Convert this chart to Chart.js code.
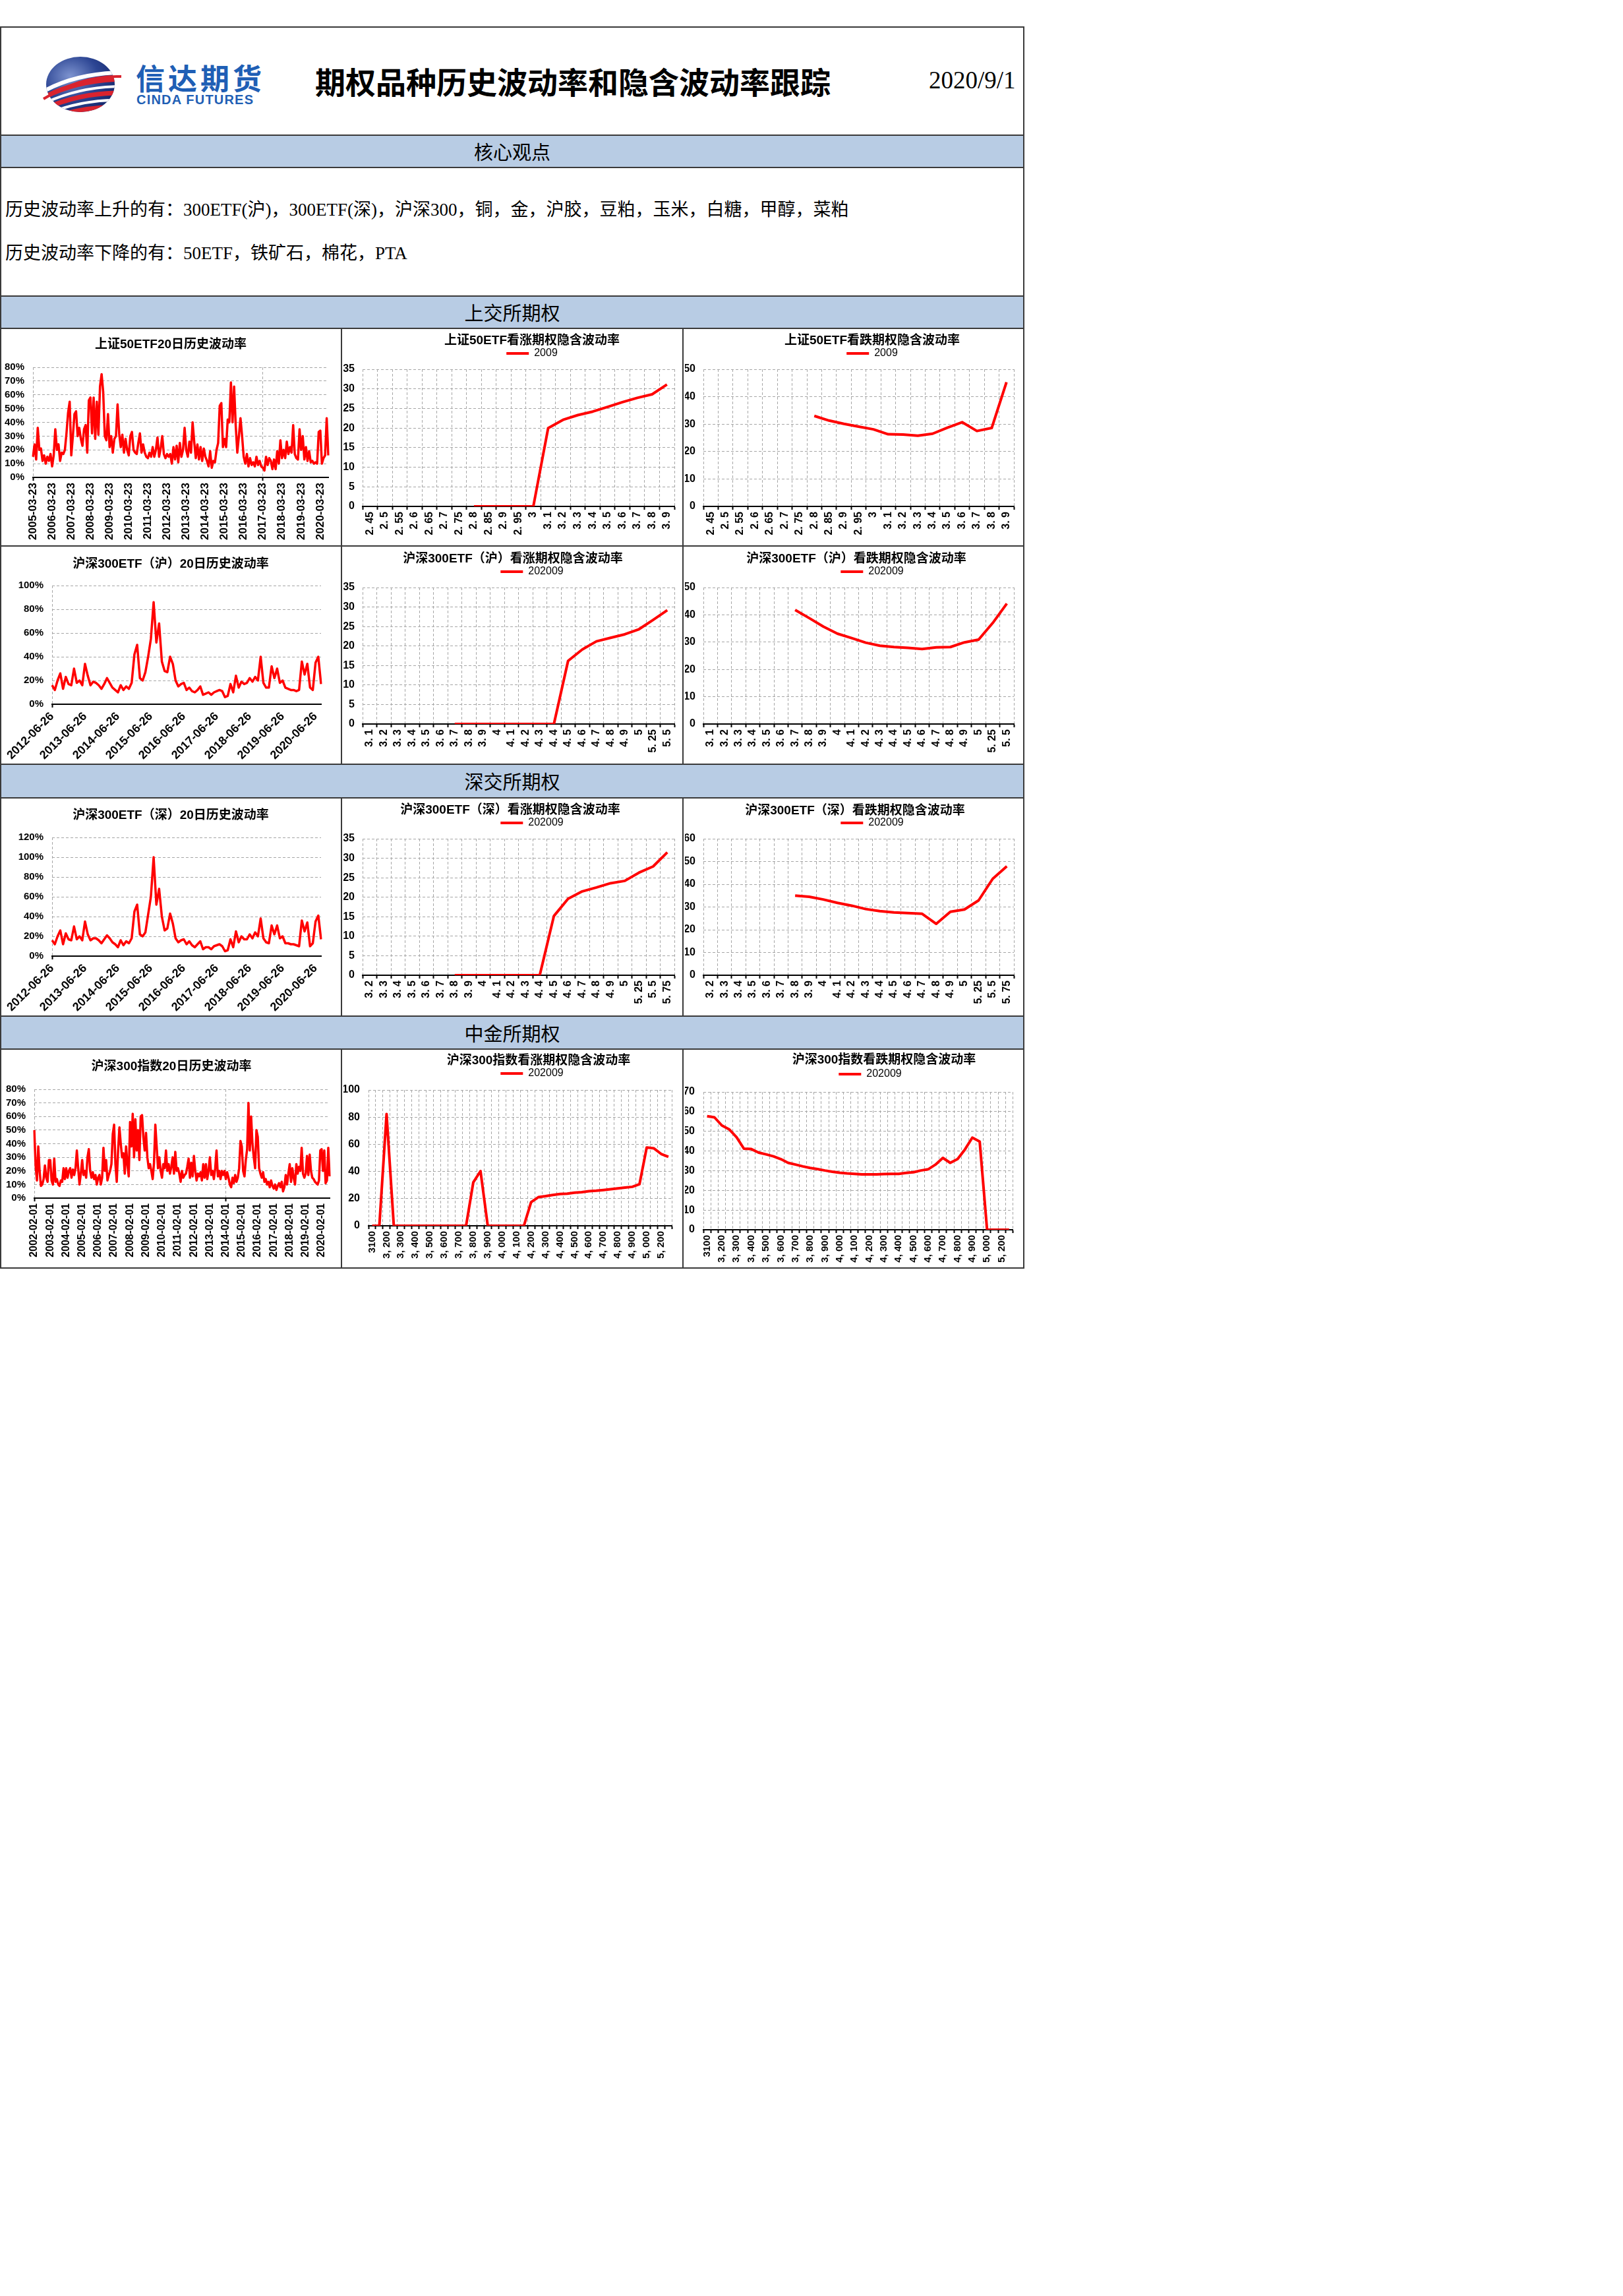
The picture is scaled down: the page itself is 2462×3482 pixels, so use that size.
<!DOCTYPE html>
<html lang="zh-CN">
<head>
<meta charset="UTF-8">
<title>期权品种历史波动率和隐含波动率跟踪</title>
<script src="https://cdn.jsdelivr.net/npm/chart.js"></script>
<style>
    html, body { margin: 0; padding: 0; background: #fff; }
    body { position: relative; width: 2462px; height: 3482px; font-family: 'Liberation Sans', 'Noto Sans CJK SC', sans-serif; }

    /* every box of the report table */
    .blk { position: absolute; box-sizing: border-box; border: 2px solid #3a3a3a; background: #fff; }
    .bar { background: #b8cce4; text-align: center; font-family: 'Noto Sans CJK SC', sans-serif; font-size: 29px; color: #000; }
    .cv { position: absolute; left: 0; top: 0; right: 0; bottom: 0; }

    .abs { position: absolute; white-space: nowrap; }
    .brand { color: #1f5fb5; font-family: 'Noto Sans CJK SC', sans-serif; font-weight: bold; }
    .note { left: 8px; font-family: 'Liberation Serif', 'Noto Sans CJK SC', serif; font-size: 27px; line-height: 36px; color: #000; }
</style>
</head>
<body>

<!-- table frame -->
<div class="blk" style="left:0;top:40px;width:1554px;height:166px"></div>
<div class="blk bar" style="left:0;top:204px;width:1554px;height:51px;line-height:47px">核心观点</div>
<div class="blk" style="left:0;top:253px;width:1554px;height:197px"></div>
<div class="blk bar" style="left:0;top:448px;width:1554px;height:51px;line-height:47px">上交所期权</div>

<div class="blk" style="left:0;top:497px;width:519px;height:332px"><div class="cv" id="c1"></div></div>
<div class="blk" style="left:517px;top:497px;width:520px;height:332px"><div class="cv" id="c2"></div></div>
<div class="blk" style="left:1035px;top:497px;width:519px;height:332px"><div class="cv" id="c3"></div></div>

<div class="blk" style="left:0;top:827px;width:519px;height:333px"><div class="cv" id="c4"></div></div>
<div class="blk" style="left:517px;top:827px;width:520px;height:333px"><div class="cv" id="c5"></div></div>
<div class="blk" style="left:1035px;top:827px;width:519px;height:333px"><div class="cv" id="c6"></div></div>

<div class="blk bar" style="left:0;top:1158px;width:1554px;height:53px;line-height:49px">深交所期权</div>

<div class="blk" style="left:0;top:1209px;width:519px;height:333px"><div class="cv" id="c7"></div></div>
<div class="blk" style="left:517px;top:1209px;width:520px;height:333px"><div class="cv" id="c8"></div></div>
<div class="blk" style="left:1035px;top:1209px;width:519px;height:333px"><div class="cv" id="c9"></div></div>

<div class="blk bar" style="left:0;top:1540px;width:1554px;height:52px;line-height:48px">中金所期权</div>

<div class="blk" style="left:0;top:1590px;width:519px;height:334px"><div class="cv" id="c10"></div></div>
<div class="blk" style="left:517px;top:1590px;width:520px;height:334px"><div class="cv" id="c11"></div></div>
<div class="blk" style="left:1035px;top:1590px;width:519px;height:334px"><div class="cv" id="c12"></div></div>

<!-- header -->
<svg class="abs" style="left:64px;top:80px" width="122" height="96" viewBox="0 0 122 96">
    <defs>
        <radialGradient id="globe" cx="35%" cy="35%" r="75%">
            <stop offset="0" stop-color="#7d93cf"/>
            <stop offset="0.55" stop-color="#2c4593"/>
            <stop offset="1" stop-color="#13266a"/>
        </radialGradient>
        <clipPath id="ball"><ellipse cx="58" cy="48" rx="52" ry="42"/></clipPath>
    </defs>
    <ellipse cx="58" cy="48" rx="52" ry="42" fill="url(#globe)"/>
    <g clip-path="url(#ball)" fill="none">
        <path d="M-4 62 Q 50 30 126 30" stroke="#fff" stroke-width="6"/>
        <path d="M-4 71 Q 52 40 126 40" stroke="#d9232e" stroke-width="7"/>
        <path d="M-4 80 Q 55 50 126 51" stroke="#fff" stroke-width="4"/>
        <path d="M-4 88 Q 58 59 126 61" stroke="#d9232e" stroke-width="7"/>
        <path d="M-4 97 Q 60 69 126 72" stroke="#fff" stroke-width="4"/>
        <path d="M-4 105 Q 62 79 126 83" stroke="#d9232e" stroke-width="7"/>
    </g>
    <path d="M2 70 Q 60 34 120 36" stroke="#d9232e" stroke-width="4" fill="none"/>
</svg>
<div class="abs brand" style="left:206px;top:92px;font-size:44px;line-height:50px;letter-spacing:5px">信达期货</div>
<div class="abs brand" style="left:207px;top:140px;font-family:'Liberation Sans',sans-serif;font-size:20px;line-height:22px;letter-spacing:1.2px">CINDA FUTURES</div>
<div class="abs" style="left:478px;top:93px;font-family:'Noto Sans CJK SC',sans-serif;font-weight:bold;font-size:46px;line-height:58px;color:#000">期权品种历史波动率和隐含波动率跟踪</div>
<div class="abs" style="left:1409px;top:100px;font-family:'Liberation Serif',serif;font-size:37px;line-height:44px;color:#000">2020/9/1</div>

<!-- core view -->
<div class="abs note" style="top:300px">历史波动率上升的有：300ETF(沪)，300ETF(深)，沪深300，铜，金，沪胶，豆粕，玉米，白糖，甲醇，菜粕</div>
<div class="abs note" style="top:366px">历史波动率下降的有：50ETF，铁矿石，棉花，PTA</div>

<script>
// ---------------- data ----------------

// 20-day historical volatility (%), one reading per month
const hv50Start = [2005, 3, 23];
const hv50 = [
    15, 24, 13, 36, 20, 21, 12, 16, 10, 15, 12, 17,
    8, 16, 35, 20, 24, 12, 18, 17, 20, 32, 47, 55,
    16, 30, 46, 48, 30, 36, 28, 23, 35, 38, 18, 56,
    58, 32, 58, 28, 55, 31, 66, 75, 62, 30, 27, 46,
    22, 30, 18, 28, 30, 53, 32, 22, 31, 18, 28, 20,
    16, 30, 33, 20, 18, 17, 25, 32, 18, 24, 18, 15,
    14, 18, 15, 22, 15, 20, 29, 15, 21, 30, 17, 14,
    17, 15, 17, 10, 22, 13, 23, 11, 25, 15, 20, 36,
    20, 15, 26, 18, 40, 26, 14, 24, 13, 22, 12, 21,
    15, 12, 8, 19, 7, 12, 11, 20, 25, 52, 54, 22,
    28, 22, 42, 40, 69, 40, 66, 38, 18, 30, 43, 30,
    15, 10, 17, 8, 14, 9, 11, 8, 15, 9, 12, 8,
    7, 5, 15, 9, 14, 12, 6, 13, 6, 19, 10, 27,
    14, 20, 14, 26, 17, 22, 18, 38, 17, 14, 13, 35,
    20, 30, 13, 22, 12, 19, 11, 12, 10, 11, 10, 33,
    34, 10, 14, 16, 43, 16
];
const hv50Ticks = ['2005-03-23', '2006-03-23', '2007-03-23', '2008-03-23', '2009-03-23', '2010-03-23',
    '2011-03-23', '2012-03-23', '2013-03-23', '2014-03-23', '2015-03-23', '2016-03-23',
    '2017-03-23', '2018-03-23', '2019-03-23', '2020-03-23'];

const hvEtfStart = [2012, 6, 26];
const hvSh300 = [
    16, 12, 20, 26, 13, 23, 17, 16, 30, 18, 20, 16,
    34, 24, 16, 19, 18, 16, 13, 17, 22, 18, 14, 12,
    10, 16, 12, 15, 13, 18, 42, 50, 22, 20, 27, 40,
    55, 86, 52, 68, 36, 28, 27, 40, 34, 20, 15, 17,
    18, 12, 14, 11, 10, 12, 15, 8, 9, 10, 8, 10,
    11, 12, 11, 6, 7, 17, 10, 24, 14, 19, 17, 18,
    22, 19, 23, 20, 40, 18, 14, 14, 32, 22, 30, 18,
    20, 14, 13, 12, 12, 11, 12, 36, 25, 34, 14, 12,
    35, 40, 17
];
const hvSz300 = [
    16, 12, 20, 26, 12, 23, 17, 16, 30, 17, 20, 16,
    35, 22, 16, 18, 18, 16, 13, 17, 21, 18, 14, 12,
    9, 16, 11, 15, 13, 18, 45, 52, 22, 20, 24, 42,
    60, 100, 52, 68, 40, 26, 28, 43, 33, 18, 14, 16,
    17, 12, 15, 11, 9, 12, 15, 7, 9, 9, 7, 10,
    11, 12, 10, 5, 6, 17, 9, 25, 14, 20, 17, 17,
    22, 18, 24, 20, 38, 18, 14, 13, 31, 22, 31, 18,
    20, 13, 13, 12, 12, 11, 10, 36, 25, 34, 10, 13,
    35, 41, 17
];
const hvEtfTicks = ['2012-06-26', '2013-06-26', '2014-06-26', '2015-06-26', '2016-06-26',
    '2017-06-26', '2018-06-26', '2019-06-26', '2020-06-26'];

const hvIdxStart = [2002, 2, 1];
const hvIdx300 = [
    50, 24, 13, 38, 20, 9, 10, 14, 24, 15, 12, 28,
    28, 13, 10, 29, 12, 14, 10, 9, 13, 12, 22, 14,
    22, 15, 20, 22, 15, 21, 17, 22, 35, 22, 10, 18,
    28, 17, 20, 15, 30, 36, 20, 15, 19, 14, 17, 10,
    15, 17, 10, 15, 37, 20, 28, 13, 17, 20, 25, 47,
    54, 25, 12, 35, 52, 40, 30, 33, 18, 38, 25, 16,
    56, 38, 62, 30, 58, 35, 50, 28, 60, 61, 45, 35,
    48, 30, 22, 25, 20, 14, 26, 54, 38, 22, 30, 20,
    15, 25, 22, 35, 20, 25, 18, 23, 30, 18, 34, 20,
    22, 18, 12, 20, 15, 17, 18, 23, 29, 15, 26, 16,
    31, 20, 13, 18, 16, 19, 13, 25, 15, 25, 14, 20,
    30, 17, 20, 14, 22, 35, 16, 20, 14, 20, 17, 20,
    14, 19, 15, 10, 8, 15, 11, 17, 12, 15, 22, 42,
    38, 20, 16, 28, 36, 70, 35, 60, 40, 30, 22, 50,
    45, 22, 18, 15, 19, 12, 14, 10, 12, 8, 13, 9,
    7, 10, 6, 9, 11, 8, 12, 5, 8, 17, 10, 18,
    25, 12, 22, 15, 10, 25, 18, 23, 20, 37, 18, 15,
    18, 31, 17, 32, 20, 15, 14, 12, 11, 10, 13, 35,
    36, 20, 35, 11, 13, 37, 16
];
const hvIdxTicks = ['2002-02-01', '2003-02-01', '2004-02-01', '2005-02-01', '2006-02-01', '2007-02-01',
    '2008-02-01', '2009-02-01', '2010-02-01', '2011-02-01', '2012-02-01', '2013-02-01', '2014-02-01',
    '2015-02-01', '2016-02-01', '2017-02-01', '2018-02-01', '2019-02-01', '2020-02-01'];

// implied volatility by strike
const strikes50 = [2.45, 2.5, 2.55, 2.6, 2.65, 2.7, 2.75, 2.8, 2.85, 2.9, 2.95, 3, 3.1, 3.2, 3.3, 3.4, 3.5, 3.6, 3.7, 3.8, 3.9];
const call50 = [null, null, null, null, null, null, null, 0, 0, 0, 0, 0, 20.0, 22.1, 23.3, 24.2, 25.4, 26.6, 27.7, 28.6, 31.1];
const put50 = [null, null, null, null, null, null, null, 33.0, 31.3, 30.1, 29.1, 28.1, 26.3, 26.2, 25.8, 26.5, 28.7, 30.7, 27.5, 28.6, 45.3];

const strikesSh300 = [3.1, 3.2, 3.3, 3.4, 3.5, 3.6, 3.7, 3.8, 3.9, 4, 4.1, 4.2, 4.3, 4.4, 4.5, 4.6, 4.7, 4.8, 4.9, 5, 5.25, 5.5];
const callSh300 = [null, null, null, null, null, null, 0, 0, 0, 0, 0, 0, 0, 0, 16.2, 19.1, 21.2, 22.1, 23.0, 24.3, 26.7, 29.2];
const putSh300 = [null, null, null, null, null, null, 41.8, 38.8, 35.7, 33.1, 31.5, 29.8, 28.7, 28.2, 27.9, 27.5, 28.1, 28.2, 29.9, 30.9, 37.0, 44.1];

const strikesSz300 = [3.2, 3.3, 3.4, 3.5, 3.6, 3.7, 3.8, 3.9, 4, 4.1, 4.2, 4.3, 4.4, 4.5, 4.6, 4.7, 4.8, 4.9, 5, 5.25, 5.5, 5.75];
const callSz300 = [null, null, null, null, null, null, 0, 0, 0, 0, 0, 0, 0, 15.2, 19.6, 21.5, 22.5, 23.6, 24.2, 26.3, 27.9, 31.5];
const putSz300 = [null, null, null, null, null, null, 35.0, 34.5, 33.3, 31.8, 30.6, 29.1, 28.2, 27.6, 27.3, 27.0, 22.6, 27.9, 28.9, 32.9, 42.4, 47.9];

const strikesIdx300 = [3100, 3150, 3200, 3250, 3300, 3350, 3400, 3450, 3500, 3550, 3600, 3650, 3700, 3750,
    3800, 3850, 3900, 3950, 4000, 4050, 4100, 4150, 4200, 4250, 4300, 4350, 4400, 4450, 4500, 4550,
    4600, 4650, 4700, 4750, 4800, 4850, 4900, 4950, 5000, 5100, 5200, 5300];
const callIdx300 = [0, 0, 82.3, 0, 0, 0, 0, 0, 0, 0, 0, 0, 0, 0, 32.0, 40.3, 0, 0, 0, 0, 0, 0,
    17.4, 21.1, 21.8, 22.7, 23.4, 23.7, 24.4, 24.8, 25.5, 25.8, 26.3, 26.9, 27.6, 28.1, 28.7, 30.6,
    57.7, 57.0, 52.9, 50.8];
const putIdx300 = [57.7, 57.1, 53.0, 51.0, 47.0, 41.2, 41.0, 39.2, 38.3, 37.3, 35.9, 34.0, 33.1, 32.2,
    31.4, 30.8, 30.1, 29.5, 29.0, 28.6, 28.4, 28.1, 28.1, 28.1, 28.3, 28.4, 28.4, 28.9, 29.2, 30.1,
    30.7, 33.1, 36.5, 34.0, 35.9, 40.8, 46.8, 44.8, 0, 0, 0, 0];

// ---------------- drawing ----------------
Chart.defaults.font.family = "'Liberation Sans', 'Noto Sans CJK SC', sans-serif";
Chart.defaults.color = '#000';

const RED = '#ff0000';
const GRID = '#a6a6a6';
const NONE = 'rgba(0,0,0,0)';
const TITLE_SIZE = 19;
const LEGEND_SIZE = 16;

// monthly category labels, e.g. 2005-03-23, 2005-04-23, ...
function monthLabels(start, n) {
    const out = [];
    for (let i = 0; i < n; i++) {
        const m = start[1] - 1 + i;
        const y = start[0] + Math.floor(m / 12);
        out.push(y + '-' + String(m % 12 + 1).padStart(2, '0') + '-' + String(start[2]).padStart(2, '0'));
    }
    return out;
}

// empty layout box that keeps a gap between legend and plot
function spacer(h) {
    return {
        id: 'spacer',
        beforeInit(chart) {
            Chart.layouts.addBox(chart, {
                position: 'top', weight: 10, fullSize: true, options: {},
                left: 0, top: 0, right: 0, bottom: 0, width: 0, height: 0,
                isHorizontal() { return true; },
                update(maxWidth) { this.width = maxWidth; this.height = h; },
                draw() {}
            });
        }
    };
}

// move title / legend to their horizontal centres
function centre(tx, lx) {
    return {
        id: 'centre',
        afterLayout(chart) {
            const t = chart.titleBlock;
            if (t) { const dx = tx - (t.left + t.right) / 2; t.left += dx; t.right += dx; }
            const l = chart.legend;
            if (l && lx != null) { const dx = lx - (l.left + l.right) / 2; l.left += dx; l.right += dx; }
        }
    };
}

// f = plot frame in cell pixels: l r t b (plot area), tY tX (title centre), lY lX (legend centre)
function draw(id, f, o) {
    const box = document.getElementById(id);
    const W = box.clientWidth, H = box.clientHeight;
    const tLH = TITLE_SIZE * 1.2;
    const tTop = f.tY - 2 - tLH / 2;
    let tBottom = 0;
    let used = f.tY - 2 + tLH / 2;
    let lPad = 0;
    if (o.label) {
        lPad = f.lY - 2 - LEGEND_SIZE / 2 - used;
        if (lPad < 0) { tBottom = lPad; used += lPad; lPad = 0; }
        used += LEGEND_SIZE + lPad + 10;
    }
    const gap = Math.max(0, f.t - 2 - used);
    const padR = W - (f.r - 2);
    const xH = H - (f.b - 2) - 2;
    const yW = f.l - 2 - 2;

    const canvas = document.createElement('canvas');
    box.appendChild(canvas);
    new Chart(canvas, {
        type: 'line',
        data: {
            labels: o.cats,
            datasets: [{
                label: o.label || o.title,
                data: o.data,
                borderColor: RED,
                backgroundColor: RED,
                borderWidth: o.lw,
                pointRadius: 0,
                pointHoverRadius: 0,
                pointStyle: 'line',
                tension: 0,
                spanGaps: false,
                borderJoinStyle: 'round'
            }]
        },
        options: {
            responsive: true,
            maintainAspectRatio: false,
            animation: false,
            events: [],
            layout: { padding: { left: 2, right: padR, top: 0, bottom: 2 } },
            plugins: {
                title: {
                    display: true, text: o.title, color: '#000',
                    font: { size: TITLE_SIZE, weight: 'bold' },
                    padding: { top: tTop, bottom: tBottom }
                },
                legend: o.label ? {
                    display: true,
                    labels: {
                        usePointStyle: true, pointStyle: 'line', pointStyleWidth: 34,
                        padding: lPad, color: '#000', font: { size: LEGEND_SIZE }
                    }
                } : { display: false },
                tooltip: { enabled: false }
            },
            scales: {
                x: {
                    type: 'category',
                    offset: !!o.offset,
                    grid: {
                        offset: !!o.offset,
                        color: ctx => (o.gridOn && !o.gridOn(ctx.index)) ? NONE : GRID,
                        lineWidth: 1,
                        drawTicks: true, tickLength: 5, tickWidth: 2,
                        tickColor: ctx => (o.gridOn && !o.gridOn(ctx.index)) ? NONE : '#000'
                    },
                    border: { display: true, color: '#000', width: 2, dash: [4, 3] },
                    ticks: {
                        autoSkip: false, maxRotation: o.rot, minRotation: o.rot, padding: 3,
                        color: '#000', font: { size: o.xFont, weight: 'bold' },
                        callback: (v, i) => o.tick(i)
                    },
                    afterFit: s => { s.height = xH; }
                },
                y: {
                    min: 0, max: o.yMax,
                    grid: { color: ctx => (ctx.tick && ctx.tick.value === 0) ? NONE : GRID, lineWidth: 1, drawTicks: false },
                    border: { display: false, dash: [4, 3] },
                    ticks: {
                        autoSkip: false, stepSize: o.yStep, padding: o.yPad, color: '#000',
                        font: { size: o.yFont, weight: 'bold' },
                        callback: v => o.pct ? v + '%' : v
                    },
                    afterFit: s => { s.width = yW; }
                }
            }
        },
        plugins: [spacer(gap), centre(f.tX - 2, f.lX != null ? f.lX - 2 : null)]
    });
}

function histChart(id, f, title, start, values, ticks, yMax, yStep, xFont, rot) {
    const cats = monthLabels(start, values.length);
    const shown = new Set(ticks);
    draw(id, f, {
        title, cats, data: values, yMax, yStep, pct: true, xFont, rot, lw: 3.5,
        yFont: 15, yPad: 13, offset: false,
        tick: i => shown.has(cats[i]) ? cats[i] : null,
        gridOn: i => shown.has(cats[i])
    });
}

function ivChart(id, f, title, label, strikes, values, yMax, yStep) {
    draw(id, f, {
        title, label, cats: strikes, data: values, yMax, yStep, pct: false, lw: 4,
        xFont: 16, rot: 90, yFont: 16, yPad: 12, offset: true,
        tick: i => String(strikes[i]).replace('.', '. ')
    });
}

function ivIdxChart(id, f, title, label, strikes, values, yMax, yStep) {
    const fmt = (s, i) => i === 0 ? String(s) : Math.floor(s / 1000) + ', ' + String(s % 1000).padStart(3, '0');
    draw(id, f, {
        title, label, cats: strikes, data: values, yMax, yStep, pct: false, lw: 4,
        xFont: 15, rot: 90, yFont: 16, yPad: 13, offset: true,
        tick: i => i % 2 ? '' : fmt(strikes[i], i)
    });
}

// 上交所
histChart('c1', { l: 50, r: 498, t: 60, b: 227, tY: 26, tX: 259 },
    '上证50ETF20日历史波动率', hv50Start, hv50, hv50Ticks, 80, 10, 17, 90);
ivChart('c2', { l: 33, r: 506, t: 63, b: 271, tY: 20, tX: 290, lY: 39, lX: 290 },
    '上证50ETF看涨期权隐含波动率', '2009', strikes50, call50, 35, 5);
ivChart('c3', { l: 32, r: 503, t: 63, b: 271, tY: 20, tX: 288, lY: 39, lX: 288 },
    '上证50ETF看跌期权隐含波动率', '2009', strikes50, put50, 50, 10);

histChart('c4', { l: 79, r: 487, t: 61, b: 241, tY: 29, tX: 259 },
    '沪深300ETF（沪）20日历史波动率', hvEtfStart, hvSh300, hvEtfTicks, 100, 20, 18, 45);
ivChart('c5', { l: 33, r: 506, t: 64, b: 271, tY: 21, tX: 261, lY: 40, lX: 290 },
    '沪深300ETF（沪）看涨期权隐含波动率', '202009', strikesSh300, callSh300, 35, 5);
ivChart('c6', { l: 32, r: 503, t: 64, b: 271, tY: 21, tX: 264, lY: 40, lX: 288 },
    '沪深300ETF（沪）看跌期权隐含波动率', '202009', strikesSh300, putSh300, 50, 10);

// 深交所
histChart('c7', { l: 79, r: 487, t: 61, b: 241, tY: 28, tX: 259 },
    '沪深300ETF（深）20日历史波动率', hvEtfStart, hvSz300, hvEtfTicks, 120, 20, 18, 45);
ivChart('c8', { l: 33, r: 506, t: 63, b: 270, tY: 20, tX: 257, lY: 39, lX: 290 },
    '沪深300ETF（深）看涨期权隐含波动率', '202009', strikesSz300, callSz300, 35, 5);
ivChart('c9', { l: 32, r: 503, t: 63, b: 270, tY: 21, tX: 262, lY: 39, lX: 288 },
    '沪深300ETF（深）看跌期权隐含波动率', '202009', strikesSz300, putSz300, 60, 10);

// 中金所
histChart('c10', { l: 52, r: 500, t: 62, b: 227, tY: 28, tX: 260 },
    '沪深300指数20日历史波动率', hvIdxStart, hvIdx300, hvIdxTicks, 80, 10, 16, 90);
ivIdxChart('c11', { l: 42, r: 512, t: 63, b: 269, tY: 19, tX: 300, lY: 38, lX: 290 },
    '沪深300指数看涨期权隐含波动率', '202009', strikesIdx300, callIdx300, 100, 20);
ivIdxChart('c12', { l: 32, r: 505, t: 66, b: 275, tY: 18, tX: 306, lY: 39, lX: 285 },
    '沪深300指数看跌期权隐含波动率', '202009', strikesIdx300, putIdx300, 70, 10);
</script>
</body>
</html>
